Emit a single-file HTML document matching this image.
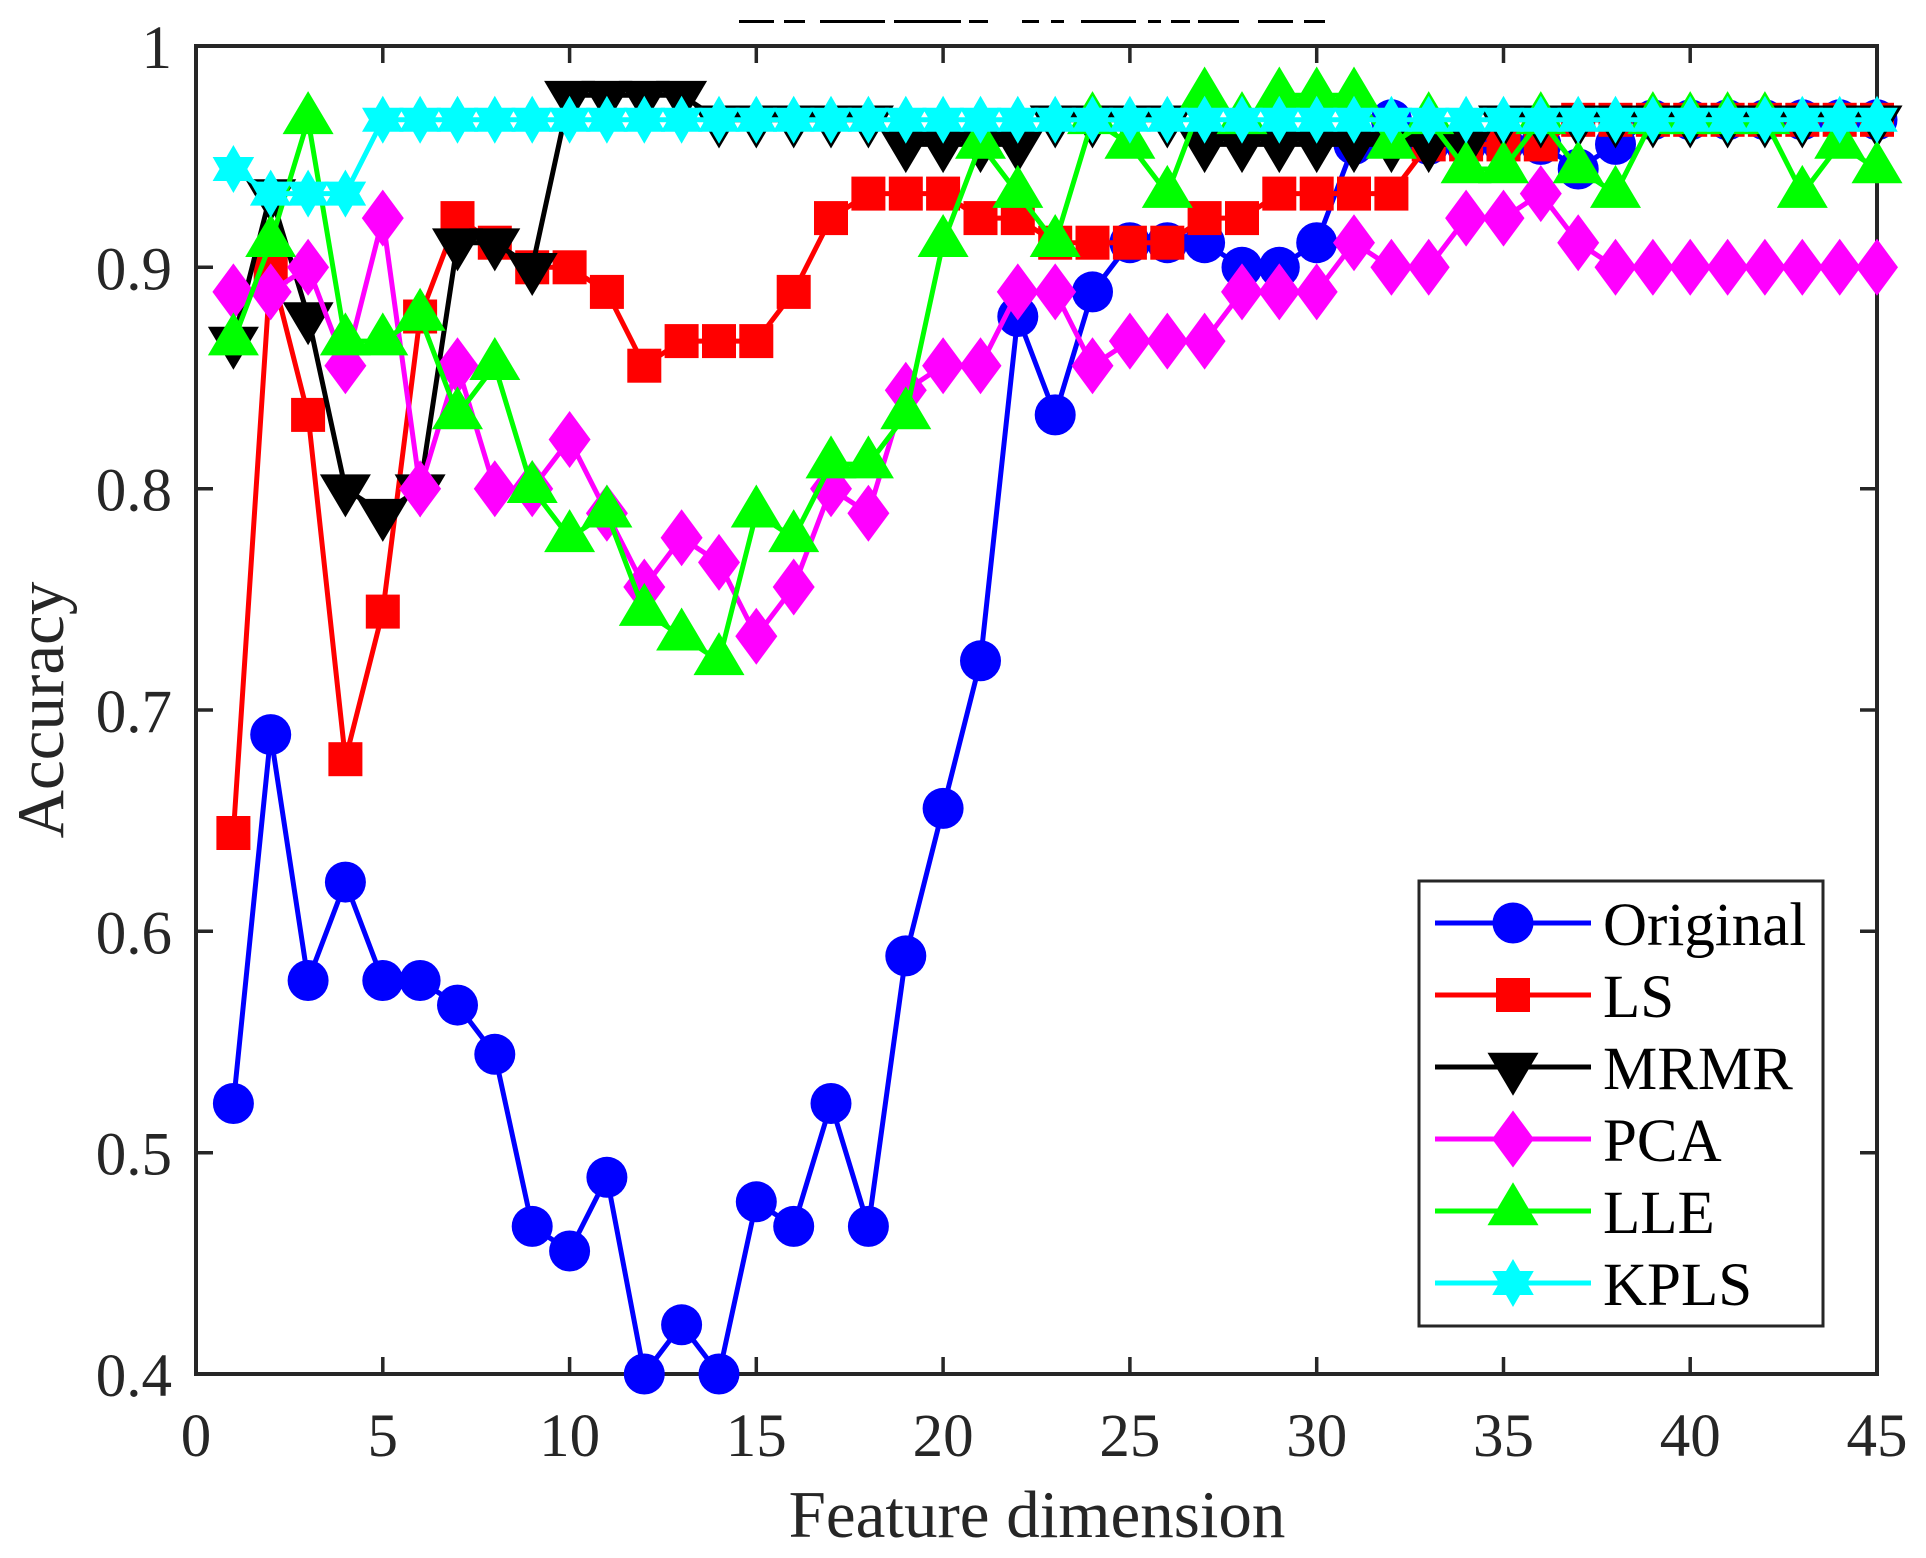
<!DOCTYPE html>
<html>
<head>
<meta charset="utf-8">
<style>
html,body{margin:0;padding:0;background:#fff;}
svg{display:block;}
text{font-family:"Liberation Serif","Times New Roman",serif;}
</style>
</head>
<body>
<svg width="1926" height="1558" viewBox="0 0 1926 1558" xmlns="http://www.w3.org/2000/svg">
<defs>
  <circle id="mo" cx="0" cy="0" r="20.5" fill="#0000ff"/>
  <rect id="ms" x="-17" y="-17" width="34" height="34" fill="#ff0000"/>
  <polygon id="mv" points="-25.5,-14.3 25.5,-14.3 0,28.7" fill="#000000"/>
  <polygon id="md" points="0,-28.5 21,0 0,28.5 -21,0" fill="#ff00ff"/>
  <polygon id="mu" points="0,-28.7 25.5,14.3 -25.5,14.3" fill="#00ff00"/>
  <polygon id="mh" points="0,-24 6.93,-12 20.78,-12 13.86,0 20.78,12 6.93,12 0,24 -6.93,12 -20.78,12 -13.86,0 -20.78,-12 -6.93,-12" fill="#00ffff"/>
</defs>

<rect x="0" y="0" width="1926" height="1558" fill="#fff"/>

<!-- clipped title remnant -->
<g fill="#000">
  <rect x="739" y="20" width="35" height="3"/>
  <rect x="784" y="20" width="21" height="3"/>
  <rect x="820" y="20" width="65" height="3"/>
  <rect x="894" y="20" width="67" height="3"/>
  <rect x="969" y="20" width="19" height="3"/>
  <rect x="1022" y="20" width="17" height="3"/>
  <rect x="1051" y="20" width="13" height="3"/>
  <rect x="1081" y="20" width="55" height="3"/>
  <rect x="1148" y="20" width="13" height="3"/>
  <rect x="1171" y="20" width="19" height="3"/>
  <rect x="1198" y="20" width="41" height="3"/>
  <rect x="1258" y="20" width="35" height="3"/>
  <rect x="1304" y="20" width="21" height="3"/>
</g>

<!-- axes box -->
<rect x="196" y="46" width="1681" height="1328" fill="none" stroke="#262626" stroke-width="4"/>
<!-- ticks -->
<g stroke="#262626" stroke-width="3.5">
  <line x1="382.8" y1="1374" x2="382.8" y2="1357"/><line x1="382.8" y1="46" x2="382.8" y2="63"/>
  <line x1="569.6" y1="1374" x2="569.6" y2="1357"/><line x1="569.6" y1="46" x2="569.6" y2="63"/>
  <line x1="756.3" y1="1374" x2="756.3" y2="1357"/><line x1="756.3" y1="46" x2="756.3" y2="63"/>
  <line x1="943.1" y1="1374" x2="943.1" y2="1357"/><line x1="943.1" y1="46" x2="943.1" y2="63"/>
  <line x1="1129.9" y1="1374" x2="1129.9" y2="1357"/><line x1="1129.9" y1="46" x2="1129.9" y2="63"/>
  <line x1="1316.7" y1="1374" x2="1316.7" y2="1357"/><line x1="1316.7" y1="46" x2="1316.7" y2="63"/>
  <line x1="1503.5" y1="1374" x2="1503.5" y2="1357"/><line x1="1503.5" y1="46" x2="1503.5" y2="63"/>
  <line x1="1690.2" y1="1374" x2="1690.2" y2="1357"/><line x1="1690.2" y1="46" x2="1690.2" y2="63"/>
  <line x1="196" y1="1152.7" x2="213" y2="1152.7"/><line x1="1877" y1="1152.7" x2="1860" y2="1152.7"/>
  <line x1="196" y1="931.3" x2="213" y2="931.3"/><line x1="1877" y1="931.3" x2="1860" y2="931.3"/>
  <line x1="196" y1="710" x2="213" y2="710"/><line x1="1877" y1="710" x2="1860" y2="710"/>
  <line x1="196" y1="488.7" x2="213" y2="488.7"/><line x1="1877" y1="488.7" x2="1860" y2="488.7"/>
  <line x1="196" y1="267.3" x2="213" y2="267.3"/><line x1="1877" y1="267.3" x2="1860" y2="267.3"/>
</g>

<!-- tick labels -->
<g font-size="61" fill="#262626" text-anchor="end">
  <text x="172" y="1396">0.4</text>
  <text x="172" y="1174.7">0.5</text>
  <text x="172" y="953.3">0.6</text>
  <text x="172" y="732">0.7</text>
  <text x="172" y="510.7">0.8</text>
  <text x="172" y="289.3">0.9</text>
  <text x="172" y="68">1</text>
</g>
<g font-size="61" fill="#262626" text-anchor="middle">
  <text x="196" y="1456">0</text>
  <text x="382.8" y="1456">5</text>
  <text x="569.6" y="1456">10</text>
  <text x="756.3" y="1456">15</text>
  <text x="943.1" y="1456">20</text>
  <text x="1129.9" y="1456">25</text>
  <text x="1316.7" y="1456">30</text>
  <text x="1503.5" y="1456">35</text>
  <text x="1690.2" y="1456">40</text>
  <text x="1877" y="1456">45</text>
</g>

<!-- axis labels -->
<text x="1037" y="1537" font-size="67" fill="#262626" text-anchor="middle">Feature dimension</text>
<text transform="translate(63,710) rotate(-90)" font-size="67" fill="#262626" text-anchor="middle">Accuracy</text>

<!-- Original -->
<polyline fill="none" stroke="#0000ff" stroke-width="5" stroke-linejoin="round" points="233.4,1103.5 270.7,734.6 308.1,980.5 345.4,882.1 382.8,980.5 420.1,980.5 457.5,1005.1 494.8,1054.3 532.2,1226.4 569.6,1251.0 606.9,1177.3 644.3,1374 681.6,1324.8 719.0,1374 756.3,1201.8 793.7,1226.4 831.0,1103.5 868.4,1226.4 905.8,955.9 943.1,808.4 980.5,660.8 1017.8,316.5 1055.2,414.9 1092.5,291.9 1129.9,242.7 1167.3,242.7 1204.6,242.7 1242.0,267.3 1279.3,267.3 1316.7,242.7 1354.0,144.4 1391.4,119.8 1428.7,144.4 1466.1,144.4 1503.5,144.4 1540.8,144.4 1578.2,169.0 1615.5,144.4 1652.9,119.8 1690.2,119.8 1727.6,119.8 1764.9,119.8 1802.3,119.8 1839.7,119.8 1877.0,119.8"/>
<g>
<use href="#mo" x="233.4" y="1103.5"/><use href="#mo" x="270.7" y="734.6"/><use href="#mo" x="308.1" y="980.5"/><use href="#mo" x="345.4" y="882.1"/><use href="#mo" x="382.8" y="980.5"/><use href="#mo" x="420.1" y="980.5"/><use href="#mo" x="457.5" y="1005.1"/><use href="#mo" x="494.8" y="1054.3"/><use href="#mo" x="532.2" y="1226.4"/><use href="#mo" x="569.6" y="1251.0"/><use href="#mo" x="606.9" y="1177.3"/><use href="#mo" x="644.3" y="1374"/><use href="#mo" x="681.6" y="1324.8"/><use href="#mo" x="719.0" y="1374"/><use href="#mo" x="756.3" y="1201.8"/><use href="#mo" x="793.7" y="1226.4"/><use href="#mo" x="831.0" y="1103.5"/><use href="#mo" x="868.4" y="1226.4"/><use href="#mo" x="905.8" y="955.9"/><use href="#mo" x="943.1" y="808.4"/><use href="#mo" x="980.5" y="660.8"/><use href="#mo" x="1017.8" y="316.5"/><use href="#mo" x="1055.2" y="414.9"/><use href="#mo" x="1092.5" y="291.9"/><use href="#mo" x="1129.9" y="242.7"/><use href="#mo" x="1167.3" y="242.7"/><use href="#mo" x="1204.6" y="242.7"/><use href="#mo" x="1242.0" y="267.3"/><use href="#mo" x="1279.3" y="267.3"/><use href="#mo" x="1316.7" y="242.7"/><use href="#mo" x="1354.0" y="144.4"/><use href="#mo" x="1391.4" y="119.8"/><use href="#mo" x="1428.7" y="144.4"/><use href="#mo" x="1466.1" y="144.4"/><use href="#mo" x="1503.5" y="144.4"/><use href="#mo" x="1540.8" y="144.4"/><use href="#mo" x="1578.2" y="169.0"/><use href="#mo" x="1615.5" y="144.4"/><use href="#mo" x="1652.9" y="119.8"/><use href="#mo" x="1690.2" y="119.8"/><use href="#mo" x="1727.6" y="119.8"/><use href="#mo" x="1764.9" y="119.8"/><use href="#mo" x="1802.3" y="119.8"/><use href="#mo" x="1839.7" y="119.8"/><use href="#mo" x="1877.0" y="119.8"/>
</g>

<!-- LS -->
<polyline fill="none" stroke="#ff0000" stroke-width="5" stroke-linejoin="round" points="233.4,833.0 270.7,267.3 308.1,414.9 345.4,759.2 382.8,611.6 420.1,316.5 457.5,218.1 494.8,242.7 532.2,267.3 569.6,267.3 606.9,291.9 644.3,365.7 681.6,341.1 719.0,341.1 756.3,341.1 793.7,291.9 831.0,218.1 868.4,193.6 905.8,193.6 943.1,193.6 980.5,218.1 1017.8,218.1 1055.2,242.7 1092.5,242.7 1129.9,242.7 1167.3,242.7 1204.6,218.1 1242.0,218.1 1279.3,193.6 1316.7,193.6 1354.0,193.6 1391.4,193.6 1428.7,144.4 1466.1,144.4 1503.5,144.4 1540.8,144.4 1578.2,119.8 1615.5,119.8 1652.9,119.8 1690.2,119.8 1727.6,119.8 1764.9,119.8 1802.3,119.8 1839.7,119.8 1877.0,119.8"/>
<g>
<use href="#ms" x="233.4" y="833.0"/><use href="#ms" x="270.7" y="267.3"/><use href="#ms" x="308.1" y="414.9"/><use href="#ms" x="345.4" y="759.2"/><use href="#ms" x="382.8" y="611.6"/><use href="#ms" x="420.1" y="316.5"/><use href="#ms" x="457.5" y="218.1"/><use href="#ms" x="494.8" y="242.7"/><use href="#ms" x="532.2" y="267.3"/><use href="#ms" x="569.6" y="267.3"/><use href="#ms" x="606.9" y="291.9"/><use href="#ms" x="644.3" y="365.7"/><use href="#ms" x="681.6" y="341.1"/><use href="#ms" x="719.0" y="341.1"/><use href="#ms" x="756.3" y="341.1"/><use href="#ms" x="793.7" y="291.9"/><use href="#ms" x="831.0" y="218.1"/><use href="#ms" x="868.4" y="193.6"/><use href="#ms" x="905.8" y="193.6"/><use href="#ms" x="943.1" y="193.6"/><use href="#ms" x="980.5" y="218.1"/><use href="#ms" x="1017.8" y="218.1"/><use href="#ms" x="1055.2" y="242.7"/><use href="#ms" x="1092.5" y="242.7"/><use href="#ms" x="1129.9" y="242.7"/><use href="#ms" x="1167.3" y="242.7"/><use href="#ms" x="1204.6" y="218.1"/><use href="#ms" x="1242.0" y="218.1"/><use href="#ms" x="1279.3" y="193.6"/><use href="#ms" x="1316.7" y="193.6"/><use href="#ms" x="1354.0" y="193.6"/><use href="#ms" x="1391.4" y="193.6"/><use href="#ms" x="1428.7" y="144.4"/><use href="#ms" x="1466.1" y="144.4"/><use href="#ms" x="1503.5" y="144.4"/><use href="#ms" x="1540.8" y="144.4"/><use href="#ms" x="1578.2" y="119.8"/><use href="#ms" x="1615.5" y="119.8"/><use href="#ms" x="1652.9" y="119.8"/><use href="#ms" x="1690.2" y="119.8"/><use href="#ms" x="1727.6" y="119.8"/><use href="#ms" x="1764.9" y="119.8"/><use href="#ms" x="1802.3" y="119.8"/><use href="#ms" x="1839.7" y="119.8"/><use href="#ms" x="1877.0" y="119.8"/>
</g>

<!-- MRMR -->
<polyline fill="none" stroke="#000000" stroke-width="5" stroke-linejoin="round" points="233.4,341.1 270.7,193.6 308.1,316.5 345.4,488.7 382.8,513.2 420.1,488.7 457.5,242.7 494.8,242.7 532.2,267.3 569.6,95.2 606.9,95.2 644.3,95.2 681.6,95.2 719.0,119.8 756.3,119.8 793.7,119.8 831.0,119.8 868.4,119.8 905.8,144.4 943.1,144.4 980.5,144.4 1017.8,144.4 1055.2,119.8 1092.5,119.8 1129.9,119.8 1167.3,119.8 1204.6,144.4 1242.0,144.4 1279.3,144.4 1316.7,144.4 1354.0,144.4 1391.4,144.4 1428.7,144.4 1466.1,144.4 1503.5,119.8 1540.8,119.8 1578.2,119.8 1615.5,119.8 1652.9,119.8 1690.2,119.8 1727.6,119.8 1764.9,119.8 1802.3,119.8 1839.7,119.8 1877.0,119.8"/>
<g>
<use href="#mv" x="233.4" y="341.1"/><use href="#mv" x="270.7" y="193.6"/><use href="#mv" x="308.1" y="316.5"/><use href="#mv" x="345.4" y="488.7"/><use href="#mv" x="382.8" y="513.2"/><use href="#mv" x="420.1" y="488.7"/><use href="#mv" x="457.5" y="242.7"/><use href="#mv" x="494.8" y="242.7"/><use href="#mv" x="532.2" y="267.3"/><use href="#mv" x="569.6" y="95.2"/><use href="#mv" x="606.9" y="95.2"/><use href="#mv" x="644.3" y="95.2"/><use href="#mv" x="681.6" y="95.2"/><use href="#mv" x="719.0" y="119.8"/><use href="#mv" x="756.3" y="119.8"/><use href="#mv" x="793.7" y="119.8"/><use href="#mv" x="831.0" y="119.8"/><use href="#mv" x="868.4" y="119.8"/><use href="#mv" x="905.8" y="144.4"/><use href="#mv" x="943.1" y="144.4"/><use href="#mv" x="980.5" y="144.4"/><use href="#mv" x="1017.8" y="144.4"/><use href="#mv" x="1055.2" y="119.8"/><use href="#mv" x="1092.5" y="119.8"/><use href="#mv" x="1129.9" y="119.8"/><use href="#mv" x="1167.3" y="119.8"/><use href="#mv" x="1204.6" y="144.4"/><use href="#mv" x="1242.0" y="144.4"/><use href="#mv" x="1279.3" y="144.4"/><use href="#mv" x="1316.7" y="144.4"/><use href="#mv" x="1354.0" y="144.4"/><use href="#mv" x="1391.4" y="144.4"/><use href="#mv" x="1428.7" y="144.4"/><use href="#mv" x="1466.1" y="144.4"/><use href="#mv" x="1503.5" y="119.8"/><use href="#mv" x="1540.8" y="119.8"/><use href="#mv" x="1578.2" y="119.8"/><use href="#mv" x="1615.5" y="119.8"/><use href="#mv" x="1652.9" y="119.8"/><use href="#mv" x="1690.2" y="119.8"/><use href="#mv" x="1727.6" y="119.8"/><use href="#mv" x="1764.9" y="119.8"/><use href="#mv" x="1802.3" y="119.8"/><use href="#mv" x="1839.7" y="119.8"/><use href="#mv" x="1877.0" y="119.8"/>
</g>

<!-- PCA -->
<polyline fill="none" stroke="#ff00ff" stroke-width="5" stroke-linejoin="round" points="233.4,291.9 270.7,291.9 308.1,267.3 345.4,365.7 382.8,218.1 420.1,488.7 457.5,365.7 494.8,488.7 532.2,488.7 569.6,439.5 606.9,513.2 644.3,587.0 681.6,537.8 719.0,562.4 756.3,636.2 793.7,587.0 831.0,488.7 868.4,513.2 905.8,390.3 943.1,365.7 980.5,365.7 1017.8,291.9 1055.2,291.9 1092.5,365.7 1129.9,341.1 1167.3,341.1 1204.6,341.1 1242.0,291.9 1279.3,291.9 1316.7,291.9 1354.0,242.7 1391.4,267.3 1428.7,267.3 1466.1,218.1 1503.5,218.1 1540.8,193.6 1578.2,242.7 1615.5,267.3 1652.9,267.3 1690.2,267.3 1727.6,267.3 1764.9,267.3 1802.3,267.3 1839.7,267.3 1877.0,267.3"/>
<g>
<use href="#md" x="233.4" y="291.9"/><use href="#md" x="270.7" y="291.9"/><use href="#md" x="308.1" y="267.3"/><use href="#md" x="345.4" y="365.7"/><use href="#md" x="382.8" y="218.1"/><use href="#md" x="420.1" y="488.7"/><use href="#md" x="457.5" y="365.7"/><use href="#md" x="494.8" y="488.7"/><use href="#md" x="532.2" y="488.7"/><use href="#md" x="569.6" y="439.5"/><use href="#md" x="606.9" y="513.2"/><use href="#md" x="644.3" y="587.0"/><use href="#md" x="681.6" y="537.8"/><use href="#md" x="719.0" y="562.4"/><use href="#md" x="756.3" y="636.2"/><use href="#md" x="793.7" y="587.0"/><use href="#md" x="831.0" y="488.7"/><use href="#md" x="868.4" y="513.2"/><use href="#md" x="905.8" y="390.3"/><use href="#md" x="943.1" y="365.7"/><use href="#md" x="980.5" y="365.7"/><use href="#md" x="1017.8" y="291.9"/><use href="#md" x="1055.2" y="291.9"/><use href="#md" x="1092.5" y="365.7"/><use href="#md" x="1129.9" y="341.1"/><use href="#md" x="1167.3" y="341.1"/><use href="#md" x="1204.6" y="341.1"/><use href="#md" x="1242.0" y="291.9"/><use href="#md" x="1279.3" y="291.9"/><use href="#md" x="1316.7" y="291.9"/><use href="#md" x="1354.0" y="242.7"/><use href="#md" x="1391.4" y="267.3"/><use href="#md" x="1428.7" y="267.3"/><use href="#md" x="1466.1" y="218.1"/><use href="#md" x="1503.5" y="218.1"/><use href="#md" x="1540.8" y="193.6"/><use href="#md" x="1578.2" y="242.7"/><use href="#md" x="1615.5" y="267.3"/><use href="#md" x="1652.9" y="267.3"/><use href="#md" x="1690.2" y="267.3"/><use href="#md" x="1727.6" y="267.3"/><use href="#md" x="1764.9" y="267.3"/><use href="#md" x="1802.3" y="267.3"/><use href="#md" x="1839.7" y="267.3"/><use href="#md" x="1877.0" y="267.3"/>
</g>

<!-- LLE -->
<polyline fill="none" stroke="#00ff00" stroke-width="5" stroke-linejoin="round" points="233.4,341.1 270.7,242.7 308.1,119.8 345.4,341.1 382.8,341.1 420.1,316.5 457.5,414.9 494.8,365.7 532.2,488.7 569.6,537.8 606.9,513.2 644.3,611.6 681.6,636.2 719.0,660.8 756.3,513.2 793.7,537.8 831.0,464.1 868.4,464.1 905.8,414.9 943.1,242.7 980.5,144.4 1017.8,193.6 1055.2,242.7 1092.5,119.8 1129.9,144.4 1167.3,193.6 1204.6,95.2 1242.0,119.8 1279.3,95.2 1316.7,95.2 1354.0,95.2 1391.4,144.4 1428.7,119.8 1466.1,169.0 1503.5,169.0 1540.8,119.8 1578.2,169.0 1615.5,193.6 1652.9,119.8 1690.2,119.8 1727.6,119.8 1764.9,119.8 1802.3,193.6 1839.7,144.4 1877.0,169.0"/>
<g>
<use href="#mu" x="233.4" y="341.1"/><use href="#mu" x="270.7" y="242.7"/><use href="#mu" x="308.1" y="119.8"/><use href="#mu" x="345.4" y="341.1"/><use href="#mu" x="382.8" y="341.1"/><use href="#mu" x="420.1" y="316.5"/><use href="#mu" x="457.5" y="414.9"/><use href="#mu" x="494.8" y="365.7"/><use href="#mu" x="532.2" y="488.7"/><use href="#mu" x="569.6" y="537.8"/><use href="#mu" x="606.9" y="513.2"/><use href="#mu" x="644.3" y="611.6"/><use href="#mu" x="681.6" y="636.2"/><use href="#mu" x="719.0" y="660.8"/><use href="#mu" x="756.3" y="513.2"/><use href="#mu" x="793.7" y="537.8"/><use href="#mu" x="831.0" y="464.1"/><use href="#mu" x="868.4" y="464.1"/><use href="#mu" x="905.8" y="414.9"/><use href="#mu" x="943.1" y="242.7"/><use href="#mu" x="980.5" y="144.4"/><use href="#mu" x="1017.8" y="193.6"/><use href="#mu" x="1055.2" y="242.7"/><use href="#mu" x="1092.5" y="119.8"/><use href="#mu" x="1129.9" y="144.4"/><use href="#mu" x="1167.3" y="193.6"/><use href="#mu" x="1204.6" y="95.2"/><use href="#mu" x="1242.0" y="119.8"/><use href="#mu" x="1279.3" y="95.2"/><use href="#mu" x="1316.7" y="95.2"/><use href="#mu" x="1354.0" y="95.2"/><use href="#mu" x="1391.4" y="144.4"/><use href="#mu" x="1428.7" y="119.8"/><use href="#mu" x="1466.1" y="169.0"/><use href="#mu" x="1503.5" y="169.0"/><use href="#mu" x="1540.8" y="119.8"/><use href="#mu" x="1578.2" y="169.0"/><use href="#mu" x="1615.5" y="193.6"/><use href="#mu" x="1652.9" y="119.8"/><use href="#mu" x="1690.2" y="119.8"/><use href="#mu" x="1727.6" y="119.8"/><use href="#mu" x="1764.9" y="119.8"/><use href="#mu" x="1802.3" y="193.6"/><use href="#mu" x="1839.7" y="144.4"/><use href="#mu" x="1877.0" y="169.0"/>
</g>

<!-- KPLS -->
<polyline fill="none" stroke="#00ffff" stroke-width="5" stroke-linejoin="round" points="233.4,169.0 270.7,193.6 308.1,193.6 345.4,193.6 382.8,119.8 420.1,119.8 457.5,119.8 494.8,119.8 532.2,119.8 569.6,119.8 606.9,119.8 644.3,119.8 681.6,119.8 719.0,119.8 756.3,119.8 793.7,119.8 831.0,119.8 868.4,119.8 905.8,119.8 943.1,119.8 980.5,119.8 1017.8,119.8 1055.2,119.8 1092.5,119.8 1129.9,119.8 1167.3,119.8 1204.6,119.8 1242.0,119.8 1279.3,119.8 1316.7,119.8 1354.0,119.8 1391.4,119.8 1428.7,119.8 1466.1,119.8 1503.5,119.8 1540.8,119.8 1578.2,119.8 1615.5,119.8 1652.9,119.8 1690.2,119.8 1727.6,119.8 1764.9,119.8 1802.3,119.8 1839.7,119.8 1877.0,119.8"/>
<g>
<use href="#mh" x="233.4" y="169.0"/><use href="#mh" x="270.7" y="193.6"/><use href="#mh" x="308.1" y="193.6"/><use href="#mh" x="345.4" y="193.6"/><use href="#mh" x="382.8" y="119.8"/><use href="#mh" x="420.1" y="119.8"/><use href="#mh" x="457.5" y="119.8"/><use href="#mh" x="494.8" y="119.8"/><use href="#mh" x="532.2" y="119.8"/><use href="#mh" x="569.6" y="119.8"/><use href="#mh" x="606.9" y="119.8"/><use href="#mh" x="644.3" y="119.8"/><use href="#mh" x="681.6" y="119.8"/><use href="#mh" x="719.0" y="119.8"/><use href="#mh" x="756.3" y="119.8"/><use href="#mh" x="793.7" y="119.8"/><use href="#mh" x="831.0" y="119.8"/><use href="#mh" x="868.4" y="119.8"/><use href="#mh" x="905.8" y="119.8"/><use href="#mh" x="943.1" y="119.8"/><use href="#mh" x="980.5" y="119.8"/><use href="#mh" x="1017.8" y="119.8"/><use href="#mh" x="1055.2" y="119.8"/><use href="#mh" x="1092.5" y="119.8"/><use href="#mh" x="1129.9" y="119.8"/><use href="#mh" x="1167.3" y="119.8"/><use href="#mh" x="1204.6" y="119.8"/><use href="#mh" x="1242.0" y="119.8"/><use href="#mh" x="1279.3" y="119.8"/><use href="#mh" x="1316.7" y="119.8"/><use href="#mh" x="1354.0" y="119.8"/><use href="#mh" x="1391.4" y="119.8"/><use href="#mh" x="1428.7" y="119.8"/><use href="#mh" x="1466.1" y="119.8"/><use href="#mh" x="1503.5" y="119.8"/><use href="#mh" x="1540.8" y="119.8"/><use href="#mh" x="1578.2" y="119.8"/><use href="#mh" x="1615.5" y="119.8"/><use href="#mh" x="1652.9" y="119.8"/><use href="#mh" x="1690.2" y="119.8"/><use href="#mh" x="1727.6" y="119.8"/><use href="#mh" x="1764.9" y="119.8"/><use href="#mh" x="1802.3" y="119.8"/><use href="#mh" x="1839.7" y="119.8"/><use href="#mh" x="1877.0" y="119.8"/>
</g>

<!-- legend -->
<rect x="1419" y="881" width="404" height="445" fill="#fff" stroke="#262626" stroke-width="3"/>
<g stroke-width="5">
  <line x1="1435" y1="923" x2="1591" y2="923" stroke="#0000ff"/>
  <line x1="1435" y1="995" x2="1591" y2="995" stroke="#ff0000"/>
  <line x1="1435" y1="1067" x2="1591" y2="1067" stroke="#000000"/>
  <line x1="1435" y1="1139" x2="1591" y2="1139" stroke="#ff00ff"/>
  <line x1="1435" y1="1211" x2="1591" y2="1211" stroke="#00ff00"/>
  <line x1="1435" y1="1283" x2="1591" y2="1283" stroke="#00ffff"/>
</g>
<use href="#mo" x="1513" y="923"/>
<use href="#ms" x="1513" y="995"/>
<use href="#mv" x="1513" y="1067"/>
<use href="#md" x="1513" y="1139"/>
<use href="#mu" x="1513" y="1211"/>
<use href="#mh" x="1513" y="1283"/>
<g font-size="61" fill="#000">
  <text x="1603" y="945">Original</text>
  <text x="1603" y="1017">LS</text>
  <text x="1603" y="1089">MRMR</text>
  <text x="1603" y="1161">PCA</text>
  <text x="1603" y="1233">LLE</text>
  <text x="1603" y="1305">KPLS</text>
</g>
</svg>
</body>
</html>
